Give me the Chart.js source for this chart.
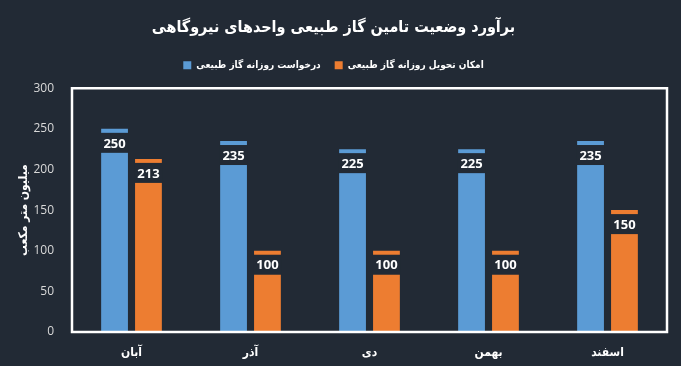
<!DOCTYPE html>
<html>
<head>
<meta charset="utf-8">
<script src="https://cdn.jsdelivr.net/npm/chart.js@4.4.1/dist/chart.umd.min.js"></script>
<style>
    html, body { margin: 0; padding: 0; background: #222a35; }
    #wrap { width: 681px; height: 366px; }
</style>
</head>
<body>
<div id="wrap"><canvas id="c" width="681" height="366"></canvas></div>
<script>
'use strict';

var months = ['آبان', 'آذر', 'دی', 'بهمن', 'اسفند'];
var demand = [250, 235, 225, 225, 235];
var supply = [213, 100, 100, 100, 150];
var yTicks = [0, 50, 100, 150, 200, 250, 300];

var BG = '#222a35';
var faFont = '"DejaVu Sans Condensed", "DejaVu Sans", sans-serif';

// dark label box sitting just under the top of each bar
var valueBoxes = {
    id: 'valueBoxes',
    afterDatasetsDraw: function(chart) {
        var ctx = chart.ctx;
        ctx.save();
        chart.data.datasets.forEach(function(ds, i) {
            var meta = chart.getDatasetMeta(i);
            meta.data.forEach(function(bar, j) {
                var w = bar.width + 2;
                ctx.fillStyle = BG;
                ctx.fillRect(bar.x - w / 2, bar.y + 4, w, 20);
                ctx.fillStyle = '#ffffff';
                ctx.font = 'bold 13px "Open Sans", sans-serif';
                ctx.textAlign = 'center';
                ctx.textBaseline = 'middle';
                ctx.fillText(ds.data[j], bar.x, bar.y + 15);
            });
        });
        ctx.restore();
    }
};

var plotFrame = {
    id: 'plotFrame',
    afterDatasetsDraw: function(chart) {
        var a = chart.chartArea;
        var ctx = chart.ctx;
        ctx.save();
        ctx.strokeStyle = '#ffffff';
        ctx.lineWidth = 2.5;
        ctx.beginPath();
        ctx.rect(a.left, a.top, a.right - a.left, a.bottom - a.top);
        ctx.stroke();
        ctx.restore();
    }
};

// a little extra room under the legend
var legendGap = {
    id: 'legendGap',
    beforeInit: function(chart) {
        var fit = chart.legend.fit;
        chart.legend.fit = function() {
            fit.call(this);
            this.height += 8;
        };
    }
};

new Chart(document.getElementById('c'), {
    type: 'bar',
    data: {
        labels: months,
        datasets: [{
            label: 'درخواست روزانه گاز طبیعی',
            data: demand,
            backgroundColor: '#5b9bd5'
        }, {
            label: 'امکان تحویل روزانه گاز طبیعی',
            data: supply,
            backgroundColor: '#ed7d31'
        }]
    },
    options: {
        responsive: false,
        animation: false,
        devicePixelRatio: 1,
        layout: { padding: { left: 0, right: 14, top: 0, bottom: 0 } },
        datasets: {
            bar: { categoryPercentage: 0.57, barPercentage: 0.79 }
        },
        plugins: {
            title: {
                display: true,
                text: 'برآورد وضعیت تامین گاز طبیعی واحدهای نیروگاهی',
                color: '#ffffff',
                font: { family: faFont, size: 16, weight: 'bold' },
                padding: { top: 18, bottom: 9 }
            },
            legend: {
                labels: {
                    color: '#ffffff',
                    boxWidth: 8,
                    boxHeight: 8,
                    padding: 14,
                    font: { family: faFont, size: 10, weight: 'bold' }
                }
            },
            tooltip: { enabled: false }
        },
        scales: {
            x: {
                afterFit: function(axis) { axis.height = 34; },
                grid: { display: false },
                border: { display: false },
                ticks: {
                    color: '#ffffff',
                    padding: 6,
                    font: { family: faFont, size: 12, weight: 'bold' }
                }
            },
            y: {
                min: 0,
                max: 300,
                afterBuildTicks: function(axis) {
                    axis.ticks = yTicks.map(function(v) { return { value: v }; });
                },
                afterFit: function(axis) { axis.width = 72; },
                grid: { display: false },
                border: { display: false },
                ticks: {
                    color: '#d9d9d9',
                    padding: 10,
                    font: { family: '"Open Sans", sans-serif', size: 12 }
                },
                title: {
                    display: true,
                    text: 'میلیون متر مکعب',
                    color: '#ffffff',
                    padding: { top: 17, bottom: 0 },
                    font: { family: faFont, size: 12, weight: 'bold' }
                }
            }
        }
    },
    plugins: [valueBoxes, plotFrame, legendGap]
});
</script>
</body>
</html>
